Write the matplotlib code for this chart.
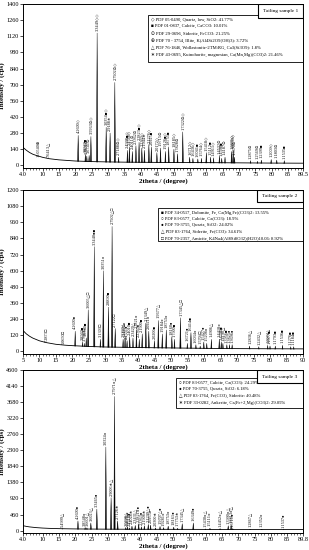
import matplotlib
matplotlib.use("Agg")
import matplotlib.pyplot as plt
from matplotlib.patches import Rectangle
from matplotlib.ticker import MultipleLocator

plt.rcParams['font.family'] = ['Liberation Serif', 'DejaVu Sans']

# ---- Tailing sample 1 ----
s1_bg_x = [4.0, 5, 6, 7, 8, 10, 12, 15, 18, 20, 25, 30, 35, 40, 50, 60, 70, 80, 89.5]
s1_bg_y = [155, 130, 110, 95, 85, 68, 56, 46, 40, 36, 31, 28, 26, 25, 23, 22, 20, 18, 17]
s1_pos = [8.8, 11.6, 13.9, 20.85, 23.05, 23.5, 24.2, 24.75, 26.64, 29.4,
          30.6, 32.05, 33.2, 35.9, 36.5, 37.4, 38.5, 39.45, 40.3, 41.1,
          42.45, 43.2, 44.9, 46.0, 47.5, 48.5, 50.1, 51.2, 52.8, 54.9,
          55.9, 57.4, 58.5, 60.0, 61.3, 62.2, 64.0, 64.7, 65.7, 67.7,
          68.2, 68.6, 73.5, 75.6, 76.8, 79.8, 81.5, 83.8]
s1_int = [55, 50, 45, 260, 95, 80, 85, 250, 1150, 330,
          280, 720, 70, 130, 160, 120, 170, 200, 150, 130,
          180, 160, 110, 150, 120, 160, 140, 100, 290, 70,
          60, 55, 60, 110, 70, 65, 80, 60, 70, 120,
          130, 70, 40, 35, 45, 50, 45, 40]
s1_lab = ["10.0540⊕", "7.6413△", "", "4.2600◇", "3.8560■", "3.7801⊙", "3.6741⊙", "3.5963⊙◇", "3.3449◇◇", "3.0354■◇",
          "2.9188∗", "2.7902⊙◇", "2.7188⊙◇", "2.4998■◇", "2.4568◇", "2.4011⊙", "2.3362⊙", "2.2823■◇", "2.2360◇", "2.1944∗",
          "2.1276◇", "2.0925■", "2.0172◇", "1.9715⊙", "1.9126■◇", "1.8755■", "1.8185◇", "1.7828⊙", "1.7322⊙◇", "1.6712◇",
          "1.6436◇", "1.6041■", "1.5764◇", "1.5418◇", "1.5112■", "1.4911◇", "1.4532⊙", "1.4398■", "1.4187⊙", "1.3831◇",
          "1.3739◇", "1.3670⊙", "1.2875⊙", "1.2569⊙", "1.2399■", "1.2009◇", "1.1803⊙", "1.1535■"]
s1_legend = ["◇ PDF 05-0490, Quartz, low, SiO2: 41.77%",
             "■ PDF 01-0837, Calcite, CaCO3: 10.01%",
             "⊙ PDF 29-0696, Siderite, FeCO3: 21.25%",
             "⊕ PDF 70 - 3754, Illite, K(Al4Si2O9(OH)3): 3.72%",
             "△ PDF 76-1846, Wollastonite-2TM\\RG, Ca3(Si3O9): 1.8%",
             "∗ PDF 43-0695, Kutnohorite, magnesian, Ca(Mn,Mg)(CO3)2: 21.46%"]
s1_xticks = [4.0, 10, 15, 20, 25, 30, 35, 40, 45, 50, 55, 60, 65, 70, 75, 80, 85, 89.5]
s1_xticklabels = ["4.0", "10", "15", "20", "25", "30", "35", "40", "45", "50",
                  "55", "60", "65", "70", "75", "80", "85", "89.5"]

# ---- Tailing sample 2 ----
s2_bg_x = [5, 6, 7, 8, 10, 12, 15, 18, 20, 25, 30, 35, 40, 50, 60, 70, 80, 90]
s2_bg_y = [155, 130, 112, 98, 78, 65, 52, 45, 42, 36, 32, 30, 28, 25, 22, 20, 19, 18]
s2_pos = [12.2, 17.5, 20.85, 23.05, 23.6, 24.2, 24.8, 26.64, 28.5, 29.4,
          30.95, 32.05, 33.0, 35.4, 36.0, 36.6, 37.4, 38.4, 39.45, 40.3,
          41.2, 42.3, 43.2, 44.9, 46.1, 47.3, 48.5, 50.2, 51.0, 52.8,
          54.9, 56.0, 57.5, 58.8, 59.9, 60.8, 62.2, 64.6, 65.2, 65.7,
          66.9, 67.7, 68.5, 73.8, 76.6, 79.3, 80.0, 81.6, 83.8, 86.3,
          87.2]
s2_int = [55, 40, 150, 70, 60, 100, 310, 780, 90, 600,
          330, 930, 170, 90, 110, 80, 110, 100, 160, 90,
          130, 210, 150, 80, 230, 130, 160, 110, 90, 250,
          60, 140, 50, 40, 70, 60, 90, 90, 70, 60,
          50, 50, 50, 40, 35, 45, 40, 40, 45, 35,
          35]
s2_lab = ["7.2873□", "5.0650□", "4.2600●", "3.8560■", "3.7680□", "3.6740■", "3.6005△□", "3.3440●■", "3.1303□", "3.0351○",
          "2.8890■", "2.7902△□", "2.7122□", "2.5320△", "2.4920○", "2.4531●", "2.4010■", "2.3420△", "2.2821○", "2.2360●",
          "2.1900■", "2.1349△", "2.0921○", "2.0200■", "1.9677△", "1.9184○", "1.8753○", "1.8160●", "1.7900■", "1.7345△□",
          "1.6721●", "1.6414■", "1.6034○", "1.5704□", "1.5427●", "1.5208○", "1.4906△", "1.4418○", "1.4296■", "1.4190△",
          "1.3956■", "1.3825●", "1.3696●", "1.2836△", "1.2432△", "1.2074△", "1.1977■", "1.1793■", "1.1536■", "1.1276■",
          "1.1184■"]
s2_legend = ["■ PDF 34-0517, Dolomite, Fe, Ca(Mg,Fe)(CO3)2: 13.55%",
             "○ PDF 83-0577, Calcite, Ca(CO3): 18.9%",
             "● PDF 70-3755, Quartz, SiO2: 24.02%",
             "△ PDF 83-1764, Siderite, Fe(CO3): 34.61%",
             "□ PDF 70-2357, Amicite, K4Na4(Al8Si8O32)(H2O)10.06: 8.92%"]
s2_xticks = [5, 10, 15, 20, 25, 30, 35, 40, 45, 50, 55, 60, 65, 70, 75, 80, 85, 90]
s2_xticklabels = [str(t) for t in s2_xticks]

# ---- Tailing sample 3 ----
s3_bg_x = [4.0, 5, 6, 7, 8, 10, 12, 15, 18, 20, 25, 30, 40, 50, 60, 70, 80, 89.8]
s3_bg_y = [140, 120, 105, 95, 85, 72, 63, 55, 50, 47, 43, 40, 37, 35, 33, 31, 30, 30]
s3_pos = [16.1, 20.85, 23.05, 23.6, 24.8, 26.64, 29.4, 31.0, 32.05, 33.0,
          35.5, 36.0, 36.6, 37.4, 38.4, 39.45, 40.3, 41.2, 42.4, 43.1,
          44.6, 46.0, 47.1, 48.5, 50.2, 51.4, 52.8, 56.2, 59.9, 61.3,
          64.4, 66.9, 67.8, 68.3, 73.6, 77.2, 83.8]
s3_int = [60, 280, 90, 80, 220, 620, 2400, 950, 3850, 280,
          90, 110, 80, 130, 150, 200, 110, 140, 180, 160,
          80, 120, 90, 130, 100, 70, 200, 220, 50, 70,
          60, 140, 160, 60, 40, 40, 30]
s3_lab = ["5.4999△", "4.2600●", "3.8548○", "3.6601△", "3.6023△", "3.3465●", "3.0324○", "2.9006∗△", "2.7971○△", "2.7126∗",
          "2.5298△", "2.4931○", "2.4518●", "2.4028∗", "2.3431△", "2.2821○●", "2.2363●", "2.1908∗", "2.1299△●", "2.0955○",
          "2.0300∗", "1.9707△●", "1.9281○", "1.8753○", "1.8161●", "1.7753∗", "1.7345△", "1.6349●", "1.5430○△", "1.5111○",
          "1.4452○△", "1.3990○△", "1.3813○△", "1.3711●", "1.2867△", "1.2352○", "1.1537●"]
s3_legend = ["○ PDF 83-0577, Calcite, Ca(CO3): 24.29%",
             "● PDF 70-3755, Quartz, SiO2: 6.18%",
             "△ PDF 83-1764, Fe(CO3), Siderite: 40.48%",
             "∗ PDF 33-0282, Ankerite, Ca(Fe+2,Mg)(CO3)2: 29.05%"]
s3_xticks = [4.0, 10, 15, 20, 25, 30, 35, 40, 45, 50, 55, 60, 65, 70, 75, 80, 85, 89.8]
s3_xticklabels = ["4.0", "10", "15", "20", "25", "30", "35", "40", "45", "50",
                  "55", "60", "65", "70", "75", "80", "85", "89.8"]


def draw_panel(ax, bg_x, bg_y, pos, inten, labels, legend_lines, sample,
               xticks, xticklabels, ylim, ystep, leg_box, smp_box):
    # peaks as narrow triangles, bottom part hidden by the white mask
    w = 0.2
    for p, h in zip(pos, inten):
        ax.fill([p - w, p, p + w], [0, h, 0], color='k', lw=0.3, zorder=1)
    ax.fill_between(bg_x, ylim[0], bg_y, color='white', lw=0, zorder=1.5)
    ax.plot(bg_x, bg_y, color='k', lw=0.6, zorder=2)

    # d-spacing labels above each peak
    pad = ylim[1] * 0.012
    for p, h, lab in zip(pos, inten, labels):
        if lab:
            ax.text(p, h + pad, lab, rotation=90, ha='center', va='bottom',
                    fontsize=3.1, zorder=3)

    ax.set_xlim(xticks[0], xticks[-1])
    ax.set_ylim(ylim)
    ax.set_xticks(xticks)
    ax.set_xticklabels(xticklabels)
    ax.xaxis.set_minor_locator(MultipleLocator(1))
    ax.yaxis.set_major_locator(MultipleLocator(ystep))
    ax.tick_params(axis='both', which='major', labelsize=4.5, length=2, width=0.5, pad=1)
    ax.tick_params(axis='x', which='minor', length=1.2, width=0.4)
    for s in ax.spines.values():
        s.set_linewidth(0.7)
    ax.set_xlabel("2theta / (degree)", fontsize=5, fontweight='bold', labelpad=0.5)
    ax.set_ylabel("Intensity / (cps)", fontsize=5, fontweight='bold', labelpad=1)

    # phase list box
    x0, y0, x1, y1 = leg_box
    ax.add_patch(Rectangle((x0, y0), x1 - x0, y1 - y0, transform=ax.transAxes,
                           facecolor='white', edgecolor='k', lw=0.6, zorder=4))
    ax.text(x0 + 0.01, y1 - 0.015, "\n".join(legend_lines), transform=ax.transAxes,
            ha='left', va='top', fontsize=3.3, linespacing=1.75, zorder=5)

    # sample name box
    x0, y0, x1, y1 = smp_box
    ax.add_patch(Rectangle((x0, y0), x1 - x0, y1 - y0, transform=ax.transAxes,
                           facecolor='white', edgecolor='k', lw=0.8, zorder=6))
    ax.text((x0 + x1) / 2, (y0 + y1) / 2, sample, transform=ax.transAxes,
            ha='center', va='center', fontsize=3.8, zorder=7)


fig = plt.figure(figsize=(3.09, 5.5), dpi=100)
ax1 = fig.add_axes([0.0744, 0.6945, 0.906, 0.298])
ax2 = fig.add_axes([0.0744, 0.3564, 0.906, 0.298])
ax3 = fig.add_axes([0.0744, 0.0309, 0.906, 0.296])

draw_panel(ax1, s1_bg_x, s1_bg_y, s1_pos, s1_int, s1_lab, s1_legend, "Tailing sample 1",
           s1_xticks, s1_xticklabels, (-25, 1400), 140,
           (0.446, 0.646, 1.0, 0.933), (0.839, 0.915, 1.0, 1.0))
draw_panel(ax2, s2_bg_x, s2_bg_y, s2_pos, s2_int, s2_lab, s2_legend, "Tailing sample 2",
           s2_xticks, s2_xticklabels, (-20, 1200), 120,
           (0.482, 0.689, 1.0, 0.89), (0.836, 0.927, 1.0, 1.0))
draw_panel(ax3, s3_bg_x, s3_bg_y, s3_pos, s3_int, s3_lab, s3_legend, "Tailing sample 3",
           s3_xticks, s3_xticklabels, (-70, 4600), 460,
           (0.546, 0.767, 1.0, 0.951), (0.836, 0.92, 1.0, 1.0))

fig.savefig("out.png", dpi=100)
